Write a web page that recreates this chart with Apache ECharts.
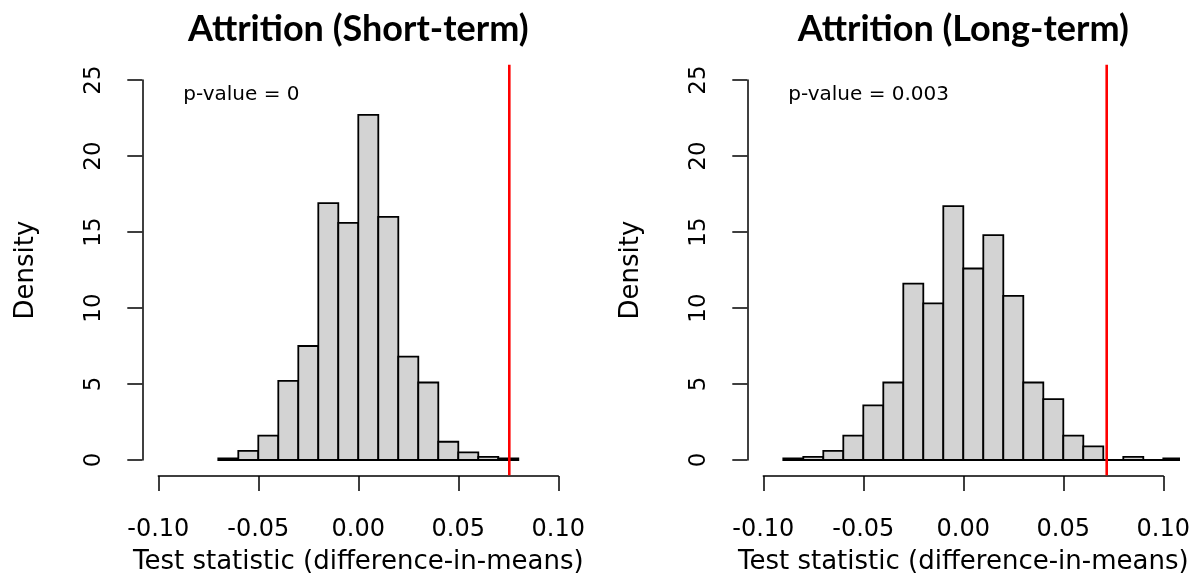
<!DOCTYPE html>
<html>
<head>
<meta charset="utf-8">
<script src="https://cdn.jsdelivr.net/npm/echarts@6/dist/echarts.min.js"></script>
<style>
html,body{margin:0;padding:0;background:#fff;}
#c{width:1199px;height:580px;}
</style>
</head>
<body>
<div id="c"></div>
<script>
// ---- data ----
var titles = ['Attrition (Short-term)', 'Attrition (Long-term)'];
var pValueLabels = ['p-value = 0', 'p-value = 0.003'];
var xTicks = [-0.10, -0.05, 0.00, 0.05, 0.10];
var yTicks = [0, 5, 10, 15, 20, 25];
var binWidth = 0.01;
var breaksShortStart = -0.07;
var densityShort = [0.1, 0.6, 1.6, 5.2, 7.5, 16.9, 15.6, 22.7, 16.0, 6.8, 5.1, 1.2, 0.5, 0.2, 0.1];
var breaksLongStart = -0.09;
var densityLong = [0.1, 0.2, 0.6, 1.6, 3.6, 5.1, 11.6, 10.3, 16.7, 12.6, 14.8, 10.8, 5.1, 4.0, 1.6, 0.9, 0, 0.2, 0, 0.1];
var observed = [0.0755, 0.0717];
var pValuePos = [[-0.09, 24], [-0.09, 24]];
var xTitle = 'Test statistic (difference-in-means)';
var yTitle = 'Density';

function bins(start, dens) {
  return dens.map(function (d, i) {
    var x0 = +(start + i * binWidth).toFixed(4);
    return [x0, +(x0 + binWidth).toFixed(4), d];
  });
}
var binData = [bins(breaksShortStart, densityShort), bins(breaksLongStart, densityLong)];

var FONT = 'DejaVu Sans';
var panelLeft = [158.3, 763.3];
var axW = 400, axTop = 80, axH = 380;
var xMin = xTicks[0], xMax = xTicks[xTicks.length - 1];
var yMin = yTicks[0], yMax = yTicks[yTicks.length - 1];
var padX = (xMax - xMin) * 0.04, padY = (yMax - yMin) * 0.04;
var pxX = axW / (xMax - xMin), pxY = axH / (yMax - yMin);

var option = {
  backgroundColor: '#fff',
  animation: false,
  title: [], grid: [], xAxis: [], yAxis: [], series: []
};

for (var p = 0; p < 2; p++) {
  var L = panelLeft[p];
  option.grid.push({ left: L, top: axTop, width: axW, height: axH, containLabel: false });
  option.grid.push({ left: L - padX * pxX, top: axTop - padY * pxY, width: axW + 2 * padX * pxX, height: axH + 2 * padY * pxY, containLabel: false });
  option.title.push({
    text: titles[p], left: L + axW / 2 - 5, top: 6, textAlign: 'center',
    textStyle: { fontFamily: 'Lato', fontWeight: 'bold', fontSize: 36, color: '#000' }
  });
  var axisCommon = {
    splitLine: { show: false },
    nameTextStyle: { fontFamily: FONT, fontSize: 26, color: '#000' }
  };
  option.xAxis.push(Object.assign({}, axisCommon, {
    type: 'value', gridIndex: p * 2, min: xMin, max: xMax, interval: 0.05,
    position: 'bottom', offset: 16,
    axisLine: { show: true, onZero: false, lineStyle: { color: '#000', width: 1.5 } },
    axisTick: { show: true, length: 15, lineStyle: { color: '#000', width: 1.5 } },
    name: xTitle, nameLocation: 'middle', nameGap: 73,
    axisLabel: { margin: 42, fontFamily: FONT, fontSize: 24, color: '#000', formatter: function (v) { return v.toFixed(2); } }
  }));
  option.yAxis.push(Object.assign({}, axisCommon, {
    type: 'value', gridIndex: p * 2, min: yMin, max: yMax, interval: 5,
    position: 'left', offset: 16,
    axisLine: { show: true, onZero: false, lineStyle: { color: '#000', width: 1.5 } },
    axisTick: { show: true, length: 15, lineStyle: { color: '#000', width: 1.5 } },
    name: yTitle, nameLocation: 'middle', nameGap: 103, nameRotate: 90,
    axisLabel: { margin: 37, rotate: 90, fontFamily: FONT, fontSize: 23, color: '#000' }
  }));
  option.xAxis.push({ type: 'value', gridIndex: p * 2 + 1, min: xMin - padX, max: xMax + padX, show: false });
  option.yAxis.push({ type: 'value', gridIndex: p * 2 + 1, min: yMin - padY, max: yMax + padY, show: false });

  option.series.push({
    type: 'custom', xAxisIndex: p * 2 + 1, yAxisIndex: p * 2 + 1, clip: true,
    data: binData[p],
    encode: { x: [0, 1], y: 2 },
    renderItem: function (params, api) {
      var a = api.coord([api.value(0), api.value(2)]);
      var b = api.coord([api.value(1), 0]);
      return {
        type: 'rect',
        shape: { x: a[0], y: a[1], width: b[0] - a[0], height: b[1] - a[1] },
        style: { fill: '#d3d3d3', stroke: '#000', lineWidth: 1.8 }
      };
    }
  });
  option.series.push({
    type: 'line', xAxisIndex: p * 2 + 1, yAxisIndex: p * 2 + 1,
    data: [[observed[p], yMin - padY], [observed[p], yMax + padY]],
    showSymbol: false, symbol: 'none', silent: true,
    lineStyle: { color: '#ff0000', width: 2.6 }
  });
  option.series.push({
    type: 'scatter', xAxisIndex: p * 2, yAxisIndex: p * 2, symbolSize: 0, silent: true,
    data: [pValuePos[p]],
    label: { show: true, position: 'right', distance: 5, formatter: pValueLabels[p], fontFamily: FONT, fontSize: 20, color: '#000', opacity: 1 },
    itemStyle: { opacity: 1 }
  });
}

var chart = echarts.init(document.getElementById('c'), null, { renderer: 'canvas' });
chart.setOption(option);
</script>
</body>
</html>
